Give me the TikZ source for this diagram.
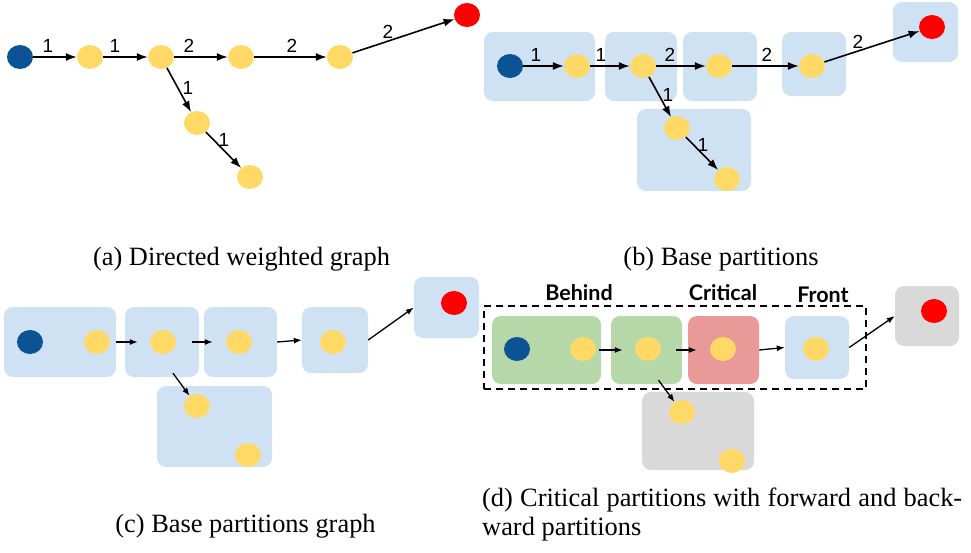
\documentclass[tikz,border=0pt]{standalone}
\usepackage{fontspec}
\usetikzlibrary{shapes.geometric,arrows.meta,calc}
\newfontfamily\labelfont{Liberation Sans}
\newfontfamily\tagfont{Lato}
\newfontfamily\capfont{Liberation Serif}
\definecolor{boxblue}{HTML}{CFE2F3}
\definecolor{dotyellow}{HTML}{FFD966}
\definecolor{dotblue}{HTML}{0B5394}
\definecolor{dotred}{HTML}{FF0000}
\definecolor{boxgreen}{HTML}{B6D7A8}
\definecolor{boxpink}{HTML}{EA9999}
\definecolor{boxgray}{HTML}{D9D9D9}
\tikzset{
  dot/.style={ellipse, minimum width=26pt, minimum height=24pt, inner sep=0pt},
  ydot/.style={dot, fill=dotyellow},
  bdot/.style={dot, fill=dotblue},
  rdot/.style={dot, fill=dotred},
  part/.style={rounded corners=9pt, inner sep=0pt, fill=#1},
  part/.default=boxblue,
  wlabel/.style={font=\labelfont\fontsize{19}{22}\selectfont, inner sep=0pt},
  tag/.style={font=\tagfont\bfseries\fontsize{21.5}{25}\selectfont, inner sep=0pt},
  caption/.style={font=\capfont\fontsize{26.4}{30}\selectfont, inner sep=0pt},
  bigarr/.style={line width=1.6pt, -{Latex[length=11pt,width=8pt]}},
  smallarr/.style={line width=1.3pt, -{Latex[length=8pt,width=6pt]}},
}
\begin{document}
\begin{tikzpicture}[x=1pt, y=-1pt]
\useasboundingbox (0,0) rectangle (971,552);

% ---------- (a) directed weighted graph ----------
\node[bdot] (a0) at (20,57) {};
\node[ydot] (a1) at (90,57) {};
\node[ydot] (a2) at (161,57) {};
\node[ydot] (a3) at (241,57) {};
\node[ydot] (a4) at (340,57) {};
\node[rdot] (a5) at (467,15) {};
\node[ydot] (a6) at (197,123) {};
\node[ydot] (a7) at (250,177) {};
\draw[bigarr] (a0) -- (a1);
\draw[bigarr] (a1) -- (a2);
\draw[bigarr] (a2) -- (a3);
\draw[bigarr] (a3) -- (a4);
\draw[bigarr] (a4) -- (a5);
\draw[bigarr] (a2) -- (a6);
\draw[bigarr] (a6) -- (a7);
\node[wlabel] (la1) at (48,46) {1};
\node[wlabel] (la2) at (115,46) {1};
\node[wlabel] (la3) at (189,46) {2};
\node[wlabel] (la4) at (292,46) {2};
\node[wlabel] (la5) at (388,32) {2};
\node[wlabel] (la6) at (188,88) {1};
\node[wlabel] (la7) at (224,140) {1};
\node[caption, anchor=base] (capa) at (241.5,265) {(a) Directed weighted graph};

% ---------- (b) base partitions ----------
\node[part, minimum width=111pt, minimum height=69pt] (bb1) at (539.5,66.5) {};
\node[part, minimum width=72pt, minimum height=69pt] (bb2) at (641,66.5) {};
\node[part, minimum width=74pt, minimum height=69pt] (bb3) at (720,66.5) {};
\node[part, minimum width=64pt, minimum height=64pt] (bb4) at (814,64) {};
\node[part, minimum width=65pt, minimum height=60pt] (bb5) at (925.5,32) {};
\node[part, minimum width=114pt, minimum height=82pt] (bb6) at (694,150) {};
\node[bdot] (b0) at (510,66) {};
\node[ydot] (b1) at (577,66) {};
\node[ydot] (b2) at (643,66) {};
\node[ydot] (b3) at (719,66) {};
\node[ydot] (b4) at (812,66) {};
\node[rdot] (b5) at (932,27) {};
\node[ydot] (b6) at (677,128) {};
\node[ydot] (b7) at (727,179) {};
\draw[bigarr] (b0) -- (b1);
\draw[bigarr] (b1) -- (b2);
\draw[bigarr] (b2) -- (b3);
\draw[bigarr] (b3) -- (b4);
\draw[bigarr] (b4) -- (b5);
\draw[bigarr] (b2) -- (b6);
\draw[bigarr] (b6) -- (b7);
\node[wlabel] (lb1) at (536,55) {1};
\node[wlabel] (lb2) at (601,55) {1};
\node[wlabel] (lb3) at (670,55) {2};
\node[wlabel] (lb4) at (767,55) {2};
\node[wlabel] (lb5) at (858,42) {2};
\node[wlabel] (lb6) at (668,95) {1};
\node[wlabel] (lb7) at (703,145) {1};
\node[caption, anchor=base] (capb) at (721,265) {(b) Base partitions};

% ---------- (c) base partitions graph ----------
\node[part, minimum width=112pt, minimum height=70pt] (cb1) at (60,342) {};
\node[part, minimum width=74pt, minimum height=70pt] (cb2) at (162,342) {};
\node[part, minimum width=73pt, minimum height=70pt] (cb3) at (240.5,342) {};
\node[part, minimum width=66pt, minimum height=66pt] (cb4) at (335,340) {};
\node[part, minimum width=65pt, minimum height=61pt] (cb5) at (446.5,307.5) {};
\node[part, minimum width=115pt, minimum height=81pt] (cb6) at (214.5,426.5) {};
\node[bdot] (c0) at (30,342) {};
\node[ydot] (c1) at (97,342) {};
\node[ydot] (c2) at (163,342) {};
\node[ydot] (c3) at (239,342) {};
\node[ydot] (c4) at (333,342) {};
\node[rdot] (c5) at (454,303) {};
\node[ydot] (c6) at (197,406) {};
\node[ydot] (c7) at (248,455) {};
\draw[smallarr] (cb1.east) -- ($(cb2.west)+(13,0)$);
\draw[smallarr] ($(cb2.east)+(-7,0)$) -- ($(cb3.west)+(9,0)$);
\draw[smallarr] (cb3.east) -- (cb4.west);
\draw[smallarr] (cb4.east) -- (cb5.west);
\draw[smallarr] ($(cb2.south)+(11,-4)$) -- (c6);
\node[caption, anchor=base] (capc) at (245.5,532) {(c) Base partitions graph};

% ---------- (d) critical, behind and front partitions ----------
\node[part=boxgreen, minimum width=109pt, minimum height=68pt] (db1) at (546.5,350) {};
\node[part=boxgreen, minimum width=71pt, minimum height=68pt] (db2) at (646.5,350) {};
\node[part=boxpink, minimum width=71pt, minimum height=68pt] (db3) at (723.5,350) {};
\node[part, minimum width=64pt, minimum height=63pt] (db4) at (817,347.5) {};
\node[part=boxgray, minimum width=64pt, minimum height=60pt] (db5) at (927,316) {};
\node[part=boxgray, minimum width=112pt, minimum height=78pt] (db6) at (698,431) {};
\node[draw, dashed, line width=1.6pt, dash pattern=on 7pt off 5pt, inner sep=0pt,
      minimum width=382pt, minimum height=83pt] (crit) at (675,347.5) {};
\node[bdot] (d0) at (517,349) {};
\node[ydot] (d1) at (583,349) {};
\node[ydot] (d2) at (648,349) {};
\node[ydot] (d3) at (723,349) {};
\node[ydot] (d4) at (816,349) {};
\node[rdot] (d5) at (934,311) {};
\node[ydot] (d6) at (682,412) {};
\node[ydot] (d7) at (732,461) {};
\draw[smallarr] ($(db1.east)+(-2,0)$) -- ($(db2.west)+(12,0)$);
\draw[smallarr] ($(db2.east)+(-6,0)$) -- ($(db3.west)+(9,0)$);
\draw[smallarr] (db3.east) -- (db4.west);
\draw[smallarr] (db4.east) -- (db5.west);
\draw[smallarr] ($(db2.south)+(12,-4)$) -- (d6);
\node[tag] (behind) at (579,293) {Behind};
\node[tag] (critical) at (723,293) {Critical};
\node[tag] (front) at (823,295) {Front};
\node[caption, anchor=base west] (capd1) at (482,506)
  {\makebox[480pt][s]{(d) Critical partitions with forward and back-}};
\node[caption, anchor=base west] (capd2) at (482,535) {ward partitions};
\end{tikzpicture}
\end{document}
